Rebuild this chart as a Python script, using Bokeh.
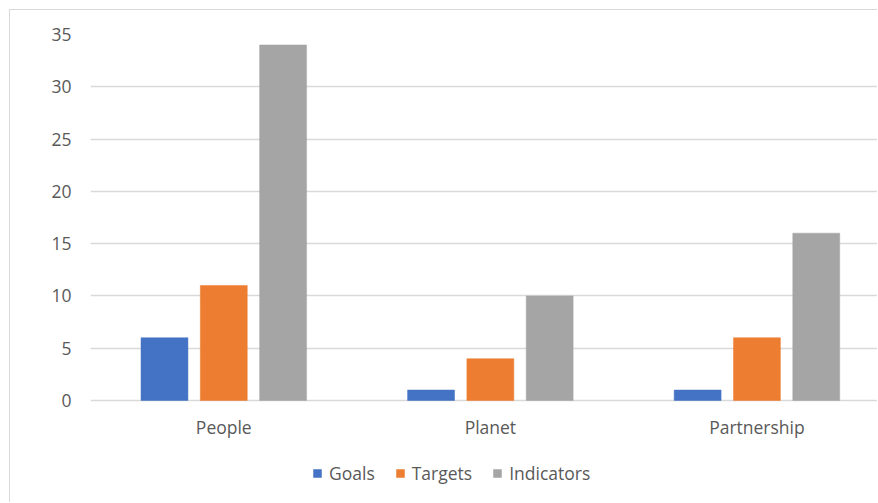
from bokeh.plotting import figure
from bokeh.models import ColumnDataSource, Range1d, FixedTicker, Legend, LegendItem
from bokeh.embed import file_html
from bokeh.resources import INLINE

categories = ["People", "Planet", "Partnership"]
series_names = ["Goals", "Targets", "Indicators"]
goals = [6, 1, 1]
targets = [11, 4, 6]
indicators = [34, 10, 16]
y_ticks = [0, 5, 10, 15, 20, 25, 30, 35]

colors = ["#4472C4", "#ED7D31", "#A5A5A5"]
FONT = "Open Sans"
TXT = "#595959"
FS = "17.5px"

W, H = 868, 493
p = figure(width=W, height=H, output_backend="svg", toolbar_location=None,
           x_range=Range1d(0, 2.956), y_range=Range1d(-9.85, 35),
           min_border_left=80, min_border_right=0, min_border_top=24, min_border_bottom=0)
p.styles = {"margin-left": "9px", "margin-top": "9px",
            "border-left": "1px solid #d9d9d9", "border-top": "1px solid #d9d9d9"}
p.outline_line_color = None
p.background_fill_color = "white"
p.border_fill_color = "white"

centers = [i + 0.5 for i in range(len(categories))]
offsets = [-0.2225, 0.0, 0.2225]
bar_w = 0.176
renderers = []
for vals, off, col, name in zip([goals, targets, indicators], offsets, colors, series_names):
    src = ColumnDataSource(dict(x=[c + off for c in centers], top=vals, cat=categories))
    r = p.vbar(x="x", top="top", width=bar_w, bottom=0, source=src,
               fill_color=col, line_color=col, line_width=0.5)
    renderers.append((name, r))

p.xgrid.visible = False
p.ygrid.grid_line_color = "#D9D9D9"
p.ygrid.grid_line_width = 1.3
p.ygrid.ticker = FixedTicker(ticks=y_ticks)

p.yaxis.ticker = FixedTicker(ticks=y_ticks)
p.yaxis.axis_line_color = None
p.yaxis.major_tick_line_color = None
p.yaxis.minor_tick_line_color = None
p.yaxis.major_label_standoff = 13
p.yaxis.major_label_text_font = FONT
p.yaxis.major_label_text_font_size = FS
p.yaxis.major_label_text_color = TXT

p.xaxis.fixed_location = 0
p.xaxis.ticker = FixedTicker(ticks=centers)
p.xaxis.major_label_overrides = {c: lab for c, lab in zip(centers, categories)}
p.xaxis.axis_line_color = None
p.xaxis.major_tick_line_color = None
p.xaxis.minor_tick_line_color = None
p.xaxis.major_label_standoff = 9
p.xaxis.major_label_text_font = FONT
p.xaxis.major_label_text_font_size = FS
p.xaxis.major_label_text_color = TXT

legend = Legend(items=[LegendItem(label=n, renderers=[r]) for n, r in renderers],
                orientation="horizontal", location=(222, 18),
                glyph_width=10, glyph_height=10, label_standoff=7, spacing=20,
                padding=0, margin=0, border_line_color=None, background_fill_alpha=0,
                label_text_font=FONT, label_text_font_size=FS, label_text_color=TXT,
                label_height=20)
p.add_layout(legend, "center")

open("out.html", "w").write(file_html(p, INLINE))
